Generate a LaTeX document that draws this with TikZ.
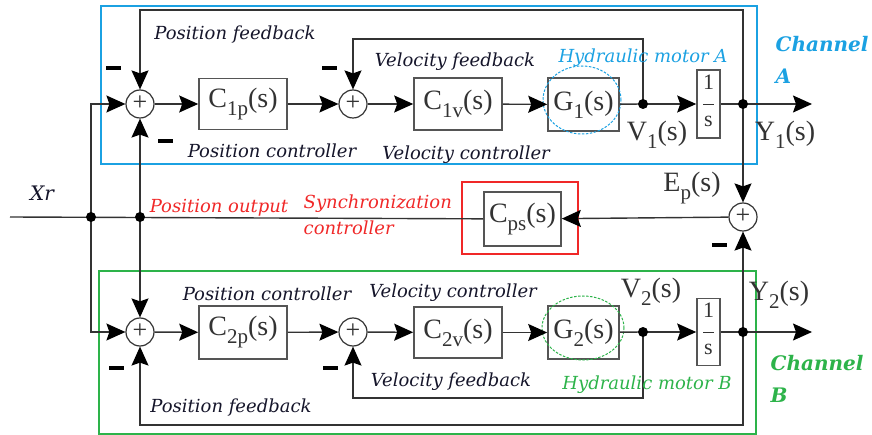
\documentclass[tikz,border=0pt]{standalone}
\usepackage{fontspec}
\setmainfont{Liberation Serif}
\newfontfamily\lblfont{DejaVu Serif}
\usetikzlibrary{arrows.meta,shapes.geometric}
\definecolor{lineg}{HTML}{333333}
\definecolor{boxg}{HTML}{555555}
\definecolor{chA}{HTML}{1BA1E2}
\definecolor{chB}{HTML}{2DB34A}
\definecolor{redc}{HTML}{F02828}
\definecolor{txt}{HTML}{15152A}
\newcommand{\tfn}[2]{#1\raisebox{-8pt}{\fontsize{21}{21}\selectfont #2}(s)}
\newcommand{\intg}{\begin{tabular}{@{}c@{}}1\\[-4pt]\rule[3pt]{11pt}{0.6pt}\\[-3pt]s\end{tabular}}
\begin{document}
\begin{tikzpicture}[x=1pt,y=-1pt, color=lineg,
  every path/.style={line width=1.4pt},
  blk/.style={draw=boxg, line width=1.6pt, rectangle, inner sep=0pt, font=\fontsize{28}{28}\selectfont},
  sumn/.style={circle, draw=lineg, line width=1.2pt, minimum size=28pt, inner sep=0pt, font=\fontsize{26}{26}\selectfont},
  dot/.style={circle, fill=black, draw=none, minimum size=10pt, inner sep=0pt},
  minus/.style={fill=black, draw=none, rectangle, minimum width=15pt, minimum height=3.5pt, inner sep=0pt},
  arr/.style={-{Stealth[length=19pt,width=17pt,inset=3pt,color=black]}},
  lbl/.style={font=\lblfont\itshape\fontsize{18}{20}\selectfont, text=txt, inner sep=0pt},
  sig/.style={font=\fontsize{28}{28}\selectfont, inner sep=0pt},
  chan/.style={font=\lblfont\bfseries\itshape\fontsize{20}{32}\selectfont, align=left, inner sep=0pt, anchor=north west},
  frame/.style={line width=1.4pt}
]
\useasboundingbox (0,0) rectangle (872,435);
% frames
\draw[frame, draw=chA] (101,6) rectangle (757,164);
\draw[frame, draw=chB] (99,271) rectangle (756,434);
\draw[frame, draw=redc] (462,182) rectangle (578,254);

% top row
\node[sumn] (s1) at (140,104) {\raisebox{1pt}{+}};
\node[blk, minimum width=88pt, minimum height=51pt] (c1p) at (243,104) {\tfn{C}{1p}};
\node[sumn] (s2) at (353,104) {\raisebox{1pt}{+}};
\node[blk, minimum width=88pt, minimum height=52pt] (c1v) at (458,104) {\tfn{C}{1v}};
\node[blk, minimum width=71pt, minimum height=53pt] (g1) at (583.5,104.5) {\tfn{G}{1}};
\node[draw=chA, dash pattern=on 2.5pt off 1.5pt, line width=1pt, ellipse, minimum width=78pt, minimum height=68pt] (e1) at (582,100) {};
\coordinate (v1) at (643,104);
\node[blk, minimum width=23pt, minimum height=68pt, font=\fontsize{22}{22}\selectfont] (int1) at (708.5,104) {\intg};
\coordinate (y1) at (743,104);
\coordinate (out1) at (812,104);
\coordinate (pf1a) at (140,10);
\coordinate (vf1a) at (353,39);

% middle
\coordinate (xr0) at (10,217);
\coordinate (d1) at (91,217);
\coordinate (d2) at (140,217);
\node[blk, minimum width=77pt, minimum height=54pt] (cps) at (522.5,219) {\tfn{C}{ps}};
\node[sumn] (se) at (743,217) {\raisebox{1pt}{+}};

% bottom row
\node[sumn] (s3) at (140,332) {\raisebox{1pt}{+}};
\node[blk, minimum width=88pt, minimum height=53pt] (c2p) at (243,332.5) {\tfn{C}{2p}};
\node[sumn] (s4) at (353,332) {\raisebox{1pt}{+}};
\node[blk, minimum width=88pt, minimum height=51pt] (c2v) at (458,332.5) {\tfn{C}{2v}};
\node[blk, minimum width=71pt, minimum height=53pt] (g2) at (583.5,332.5) {\tfn{G}{2}};
\node[draw=chB, dash pattern=on 2.5pt off 1.5pt, line width=1pt, ellipse, minimum width=82pt, minimum height=64pt] (e2) at (583,328) {};
\coordinate (v2) at (643,332);
\node[blk, minimum width=23pt, minimum height=67pt, font=\fontsize{22}{22}\selectfont] (int2) at (708.5,332) {\intg};
\coordinate (y2) at (743,332);
\coordinate (out2) at (812,332);
\coordinate (pf2a) at (140,425);
\coordinate (vf2a) at (353,398);

% connectors top
\draw[arr] (d1) |- (s1);
\draw[arr] (d2) -- (s1);
\draw[arr] (s1) -- (c1p);
\draw[arr] (c1p) -- (s2);
\draw[arr] (s2) -- (c1v);
\draw[arr] (c1v) -- (g1);
\draw (g1) -- (v1);
\draw[arr] (v1) -- (int1);
\draw (int1) -- (y1);
\draw[arr] (y1) -- (out1);
\draw[arr] (y1) |- (pf1a) -- (s1);
\draw[arr] (v1) |- (vf1a) -- (s2);
\draw[arr] (y1) -- (se);

% middle
\draw (xr0) -- (cps);
\draw[arr] (se) -- (cps);

% bottom
\draw[arr] (d1) |- (s3);
\draw[arr] (d2) -- (s3);
\draw[arr] (s3) -- (c2p);
\draw[arr] (c2p) -- (s4);
\draw[arr] (s4) -- (c2v);
\draw[arr] (c2v) -- (g2);
\draw (g2) -- (v2);
\draw[arr] (v2) -- (int2);
\draw (int2) -- (y2);
\draw[arr] (y2) -- (out2);
\draw[arr] (y2) |- (pf2a) -- (s3);
\draw[arr] (v2) |- (vf2a) -- (s4);
\draw[arr] (y2) -- (se);

% dots
\foreach \p/\n in {d1/dd1, d2/dd2, v1/dv1, y1/dy1, v2/dv2, y2/dy2}
  \node[dot] (\n) at (\p) {};

% minus signs
\node[minus] (m1) at (113,68) {};
\node[minus] (m2) at (165,141) {};
\node[minus] (m3) at (329,68) {};
\node[minus] (m4) at (719,245) {};
\node[minus] (m5) at (116,368) {};
\node[minus] (m6) at (330,368) {};

% labels
\node[lbl] (l1) at (235,35) {Position feedback};
\node[lbl] (l2) at (272,151) {Position controller};
\node[lbl] (l3) at (455,62) {Velocity feedback};
\node[lbl] (l4) at (466,155) {Velocity controller};
\node[lbl, text=chA] (l5) at (643,58) {Hydraulic motor A};
\node[sig] (lv1) at (657,135) {\tfn{V}{1}};
\node[sig] (ly1) at (785,135) {\tfn{Y}{1}};
\node[chan, text=chA] (lca) at (775,36) {Channel\\A};

\node[lbl, font=\lblfont\itshape\fontsize{20}{20}\selectfont] (lxr) at (42,193) {Xr};
\node[lbl, text=redc] (lpo) at (219,208) {Position output};
\node[lbl, text=redc, align=left, anchor=north west, font=\lblfont\itshape\fontsize{18}{26}\selectfont] (lsc) at (303,194) {Synchronization\\controller};
\node[sig] (lep) at (692,188) {\tfn{E}{p}};

\node[lbl] (l6) at (267,294) {Position controller};
\node[lbl] (l7) at (453,293) {Velocity controller};
\node[lbl] (l8) at (451,382) {Velocity feedback};
\node[lbl] (l9) at (231,408) {Position feedback};
\node[lbl, text=chB] (l10) at (647,385) {Hydraulic motor B};
\node[sig] (lv2) at (651,292) {\tfn{V}{2}};
\node[sig] (ly2) at (779,295) {\tfn{Y}{2}};
\node[chan, text=chB] (lcb) at (770,355) {Channel\\B};
\end{tikzpicture}
\end{document}
